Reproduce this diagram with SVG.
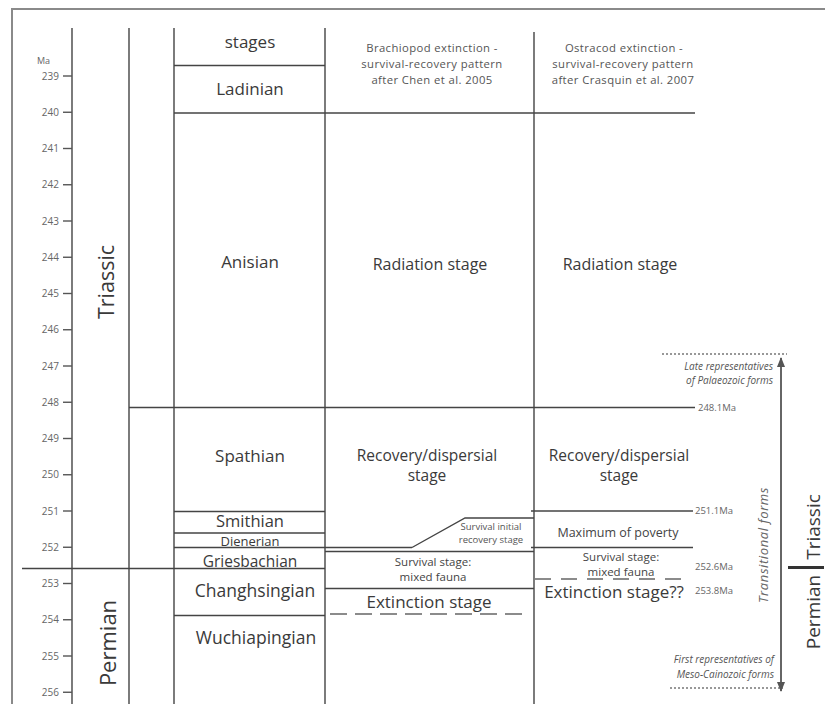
<svg xmlns="http://www.w3.org/2000/svg" width="825" height="704" viewBox="0 0 825 704">
<defs>
<style>
text{font-family:"Open Sans","DejaVu Sans",sans-serif;fill:#3a3a3a}
.ln{stroke:#444;stroke-width:1.4;fill:none}
.frame{stroke:#8a8a8a;stroke-width:2;fill:none}
.tick{stroke:#555;stroke-width:1.4}
.tl{font-size:10px;fill:#666;text-anchor:end}
.st{font-size:17px;text-anchor:middle}
.hd{font-size:11.3px;fill:#555;text-anchor:middle;letter-spacing:0.4px}
.md{text-anchor:middle}
.ma{font-size:9.5px;fill:#666}
.it{font-style:italic;font-size:10px;fill:#555;text-anchor:end}
.dash{stroke:#666;stroke-width:1.6;stroke-dasharray:17 8;fill:none}
.dot{stroke:#777;stroke-width:1.6;stroke-dasharray:2 2;fill:none}
</style>
<marker id="ah" viewBox="0 0 10 10" refX="9" refY="5" markerWidth="5" markerHeight="5" orient="auto-start-reverse">
<path d="M0,1 L10,5 L0,9 z" fill="#555"/>
</marker>
</defs>
<rect width="825" height="704" fill="#fff"/>
<g id="frame">
<path class="frame" d="M12,704 V9 H825"/>
</g>
<g id="axis">
<line class="ln" x1="72" y1="28" x2="72" y2="704"/>
<text x="37" y="64" style="font-size:9px;fill:#666">Ma</text>
<g class="ticks">
<line class="tick" x1="63" y1="76" x2="72" y2="76"/><text class="tl" x="59" y="79.5">239</text>
<line class="tick" x1="63" y1="112.25" x2="72" y2="112.25"/><text class="tl" x="59" y="115.75">240</text>
<line class="tick" x1="63" y1="148.5" x2="72" y2="148.5"/><text class="tl" x="59" y="152">241</text>
<line class="tick" x1="63" y1="184.75" x2="72" y2="184.75"/><text class="tl" x="59" y="188.25">242</text>
<line class="tick" x1="63" y1="221" x2="72" y2="221"/><text class="tl" x="59" y="224.5">243</text>
<line class="tick" x1="63" y1="257.25" x2="72" y2="257.25"/><text class="tl" x="59" y="260.75">244</text>
<line class="tick" x1="63" y1="293.5" x2="72" y2="293.5"/><text class="tl" x="59" y="297">245</text>
<line class="tick" x1="63" y1="329.75" x2="72" y2="329.75"/><text class="tl" x="59" y="333.25">246</text>
<line class="tick" x1="63" y1="366" x2="72" y2="366"/><text class="tl" x="59" y="369.5">247</text>
<line class="tick" x1="63" y1="402.25" x2="72" y2="402.25"/><text class="tl" x="59" y="405.75">248</text>
<line class="tick" x1="63" y1="438.5" x2="72" y2="438.5"/><text class="tl" x="59" y="442">249</text>
<line class="tick" x1="63" y1="474.75" x2="72" y2="474.75"/><text class="tl" x="59" y="478.25">250</text>
<line class="tick" x1="63" y1="511" x2="72" y2="511"/><text class="tl" x="59" y="514.5">251</text>
<line class="tick" x1="63" y1="547.25" x2="72" y2="547.25"/><text class="tl" x="59" y="550.75">252</text>
<line class="tick" x1="63" y1="583.5" x2="72" y2="583.5"/><text class="tl" x="59" y="587">253</text>
<line class="tick" x1="63" y1="619.75" x2="72" y2="619.75"/><text class="tl" x="59" y="623.25">254</text>
<line class="tick" x1="63" y1="656" x2="72" y2="656"/><text class="tl" x="59" y="659.5">255</text>
<line class="tick" x1="63" y1="692.25" x2="72" y2="692.25"/><text class="tl" x="59" y="695.75">256</text>
</g>
</g>
<g id="grid">
<line class="ln" x1="129" y1="28" x2="129" y2="704"/>
<line class="ln" x1="174" y1="28" x2="174" y2="704"/>
<line class="ln" x1="325" y1="28" x2="325" y2="704"/>
<line class="ln" x1="534" y1="32" x2="534" y2="704"/>
<line class="ln" x1="174" y1="65.5" x2="325" y2="65.5"/>
<line class="ln" x1="174" y1="113" x2="695" y2="113"/>
<line class="ln" x1="129" y1="407.5" x2="695" y2="407.5"/>
<line class="ln" x1="174" y1="511.5" x2="325" y2="511.5"/>
<line class="ln" x1="174" y1="533" x2="325" y2="533"/>
<line class="ln" x1="174" y1="547.5" x2="412" y2="547.5"/>
<line class="ln" x1="22" y1="568.5" x2="325" y2="568.5"/>
<line class="ln" x1="174" y1="615.5" x2="325" y2="615.5"/>
<path class="ln" d="M412,547.5 L465,518 H534"/>
<line class="ln" x1="325" y1="551.5" x2="534" y2="551.5"/>
<line class="ln" x1="325" y1="588.5" x2="534" y2="588.5"/>
<line class="dash" x1="330" y1="614" x2="527" y2="614"/>
<line class="ln" x1="531" y1="511" x2="693" y2="511"/>
<line class="ln" x1="531" y1="547.5" x2="693" y2="547.5"/>
<line class="dash" x1="535" y1="579" x2="684" y2="579" style="stroke-dasharray:16 10"/>
</g>
<g id="periods">
<text transform="translate(114,282) rotate(-90)" class="md" style="font-size:21.5px">Triassic</text>
<text transform="translate(116,643) rotate(-90)" class="md" style="font-size:22px">Permian</text>
</g>
<g id="stages">
<text class="st" x="250" y="48">stages</text>
<text class="st" x="250" y="95">Ladinian</text>
<text class="st" x="250" y="268">Anisian</text>
<text class="st" x="250" y="462">Spathian</text>
<text class="st" x="250" y="527" style="font-size:16.5px">Smithian</text>
<text class="st" x="250" y="545.5" style="font-size:13px">Dienerian</text>
<text class="st" x="250" y="567" style="font-size:15.5px">Griesbachian</text>
<text class="st" x="255" y="597" style="font-size:17.5px">Changhsingian</text>
<text class="st" x="256" y="644" style="font-size:17.5px">Wuchiapingian</text>
</g>
<g id="brachiopod">
<text class="hd" x="432" y="52">Brachiopod extinction -</text>
<text class="hd" x="432" y="68">survival-recovery pattern</text>
<text class="hd" x="432" y="84">after Chen et al. 2005</text>
<text class="md" x="430" y="270" style="font-size:16px">Radiation stage</text>
<text class="md" x="427" y="461" style="font-size:15.5px">Recovery/dispersial</text>
<text class="md" x="427" y="481" style="font-size:15.5px">stage</text>
<text class="md" x="491" y="530" style="font-size:9.5px;fill:#555">Survival initial</text>
<text class="md" x="491" y="543" style="font-size:9.5px;fill:#555">recovery stage</text>
<text class="md" x="433" y="566" style="font-size:11.5px;fill:#444">Survival stage:</text>
<text class="md" x="433" y="581" style="font-size:11.5px;fill:#444">mixed fauna</text>
<text class="md" x="429" y="608" style="font-size:17px">Extinction stage</text>
</g>
<g id="ostracod">
<text class="hd" x="624" y="52">Ostracod extinction -</text>
<text class="hd" x="623" y="68">survival-recovery pattern</text>
<text class="hd" x="623" y="84">after Crasquin et al. 2007</text>
<text class="md" x="620" y="270" style="font-size:16px">Radiation stage</text>
<text class="md" x="619" y="461" style="font-size:15.5px">Recovery/dispersial</text>
<text class="md" x="619" y="481" style="font-size:15.5px">stage</text>
<text class="md" x="618" y="537" style="font-size:12.5px;fill:#444">Maximum of poverty</text>
<text class="md" x="621" y="561" style="font-size:11.5px;fill:#444">Survival stage:</text>
<text class="md" x="621" y="576" style="font-size:11.5px;fill:#444">mixed fauna</text>
<text class="md" x="614" y="598" style="font-size:17px">Extinction stage??</text>
</g>
<g id="dates">
<text class="ma" x="698" y="411">248.1Ma</text>
<text class="ma" x="695" y="514">251.1Ma</text>
<text class="ma" x="695" y="570">252.6Ma</text>
<text class="ma" x="695" y="594">253.8Ma</text>
</g>
<g id="transitional">
<line class="dot" x1="662" y1="354" x2="787" y2="354"/>
<line class="dot" x1="670" y1="688" x2="783" y2="688"/>
<text class="it" x="773" y="370">Late representatives</text>
<text class="it" x="773" y="384">of Palaeozoic forms</text>
<text class="it" x="774" y="663">First representatives of</text>
<text class="it" x="774" y="678">Meso-Cainozoic forms</text>
<line x1="781" y1="358" x2="781" y2="691" stroke="#666" stroke-width="2" marker-start="url(#ah)" marker-end="url(#ah)"/>
<text transform="translate(768,545) rotate(-90)" class="md" style="font-style:italic;font-size:13px;letter-spacing:0.6px;fill:#666">Transitional forms</text>
</g>
<g id="boundary">
<text transform="translate(820,527) rotate(-90)" class="md" style="font-size:19px">Triassic</text>
<line x1="788" y1="567.5" x2="824" y2="567.5" stroke="#333" stroke-width="3"/>
<text transform="translate(820,612) rotate(-90)" class="md" style="font-size:19px">Permian</text>
</g>
</svg>
